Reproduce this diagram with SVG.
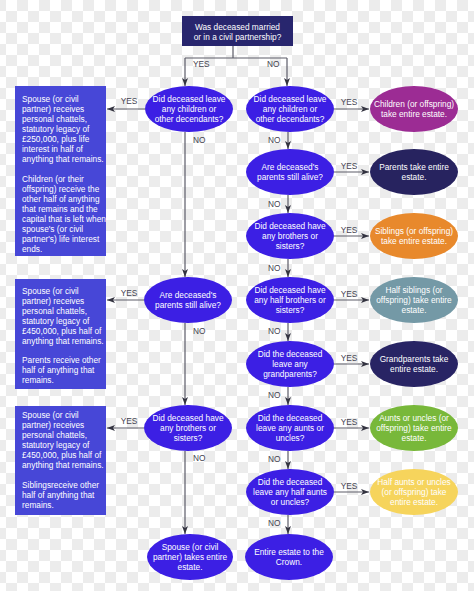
<svg xmlns="http://www.w3.org/2000/svg" width="474" height="591" viewBox="0 0 474 591">
<defs>
<pattern id="chk" x="17" y="0" width="22" height="22" patternUnits="userSpaceOnUse">
<rect width="22" height="22" fill="#ffffff"/>
<rect width="11" height="11" fill="#ececec"/>
<rect x="11" y="11" width="11" height="11" fill="#ececec"/>
</pattern>
<marker id="ah" markerUnits="userSpaceOnUse" markerWidth="8" markerHeight="6" refX="8" refY="3" orient="auto">
<path d="M0,0 L8,3 L0,6 L2,3 z" fill="#333340"/>
</marker>
<style>
.q{fill:#3c1fe4}
.box{fill:#4747d7}
.t{font-family:"Liberation Sans",Arial,sans-serif;font-size:8.3px;fill:#ffffff}
.m{text-anchor:middle}
.lbl{font-family:"Liberation Sans",Arial,sans-serif;font-size:8.3px;fill:#444450}
.c{stroke:#5c5c68;stroke-width:1.2;fill:none}
.a{marker-end:url(#ah)}
</style>
</defs>
<rect width="474" height="591" fill="url(#chk)"/>

<g id="connectors">
<path class="c" d="M233,46 V58 M185,58 H287"/>
<path class="c a" d="M185,58 V86"/>
<path class="c a" d="M287,58 V86"/>
<path class="c a" d="M145,109 H107"/>
<path class="c a" d="M185,132 V277"/>
<path class="c a" d="M144,300 H107"/>
<path class="c a" d="M185,323 V405"/>
<path class="c a" d="M144,428 H107"/>
<path class="c a" d="M185,451 V534"/>
<path class="c a" d="M334,109 H369"/>
<path class="c a" d="M334,172 H369"/>
<path class="c a" d="M334,236 H369"/>
<path class="c a" d="M334,300 H369"/>
<path class="c a" d="M334,364 H369"/>
<path class="c a" d="M334,428 H369"/>
<path class="c a" d="M334,492 H369"/>
<path class="c a" d="M288,132 V149"/>
<path class="c a" d="M288,195 V213"/>
<path class="c a" d="M288,259 V277"/>
<path class="c a" d="M288,323 V341"/>
<path class="c a" d="M288,387 V405"/>
<path class="c a" d="M288,451 V469"/>
<path class="c a" d="M288,515 V534"/>
<text class="lbl" x="193" y="67">YES</text>
<text class="lbl" x="267" y="67">NO</text>
<text class="lbl m" x="129" y="104">YES</text>
<text class="lbl m" x="129" y="296">YES</text>
<text class="lbl m" x="129" y="424">YES</text>
<text class="lbl" x="193" y="143">NO</text>
<text class="lbl" x="193" y="334">NO</text>
<text class="lbl" x="193" y="461">NO</text>
<text class="lbl m" x="349" y="105">YES</text>
<text class="lbl m" x="349" y="169">YES</text>
<text class="lbl m" x="349" y="233">YES</text>
<text class="lbl m" x="349" y="297">YES</text>
<text class="lbl m" x="349" y="361">YES</text>
<text class="lbl m" x="349" y="425">YES</text>
<text class="lbl m" x="349" y="489">YES</text>
<text class="lbl" x="268" y="143">NO</text>
<text class="lbl" x="268" y="207">NO</text>
<text class="lbl" x="268" y="271">NO</text>
<text class="lbl" x="268" y="334">NO</text>
<text class="lbl" x="268" y="398">NO</text>
<text class="lbl" x="268" y="462">NO</text>
<text class="lbl" x="268" y="526">NO</text>
</g>

<g id="start">
<rect x="182" y="16" width="111" height="30" fill="#28266e"/>
<text class="t m" x="237.5" y="30">Was deceased married</text>
<text class="t m" x="237.5" y="40">or in a civil partnership?</text>
</g>

<g id="q-left-children">
<ellipse class="q" cx="189" cy="109" rx="44" ry="23"/>
<text class="t m" x="189" y="102">Did deceased leave</text>
<text class="t m" x="189" y="112">any children or</text>
<text class="t m" x="189" y="122">other decendants?</text>
</g>
<g id="q-left-parents">
<ellipse class="q" cx="188" cy="300" rx="44" ry="23"/>
<text class="t m" x="188" y="298">Are deceased's</text>
<text class="t m" x="188" y="308">parents still alive?</text>
</g>
<g id="q-left-siblings">
<ellipse class="q" cx="188" cy="428" rx="44" ry="23"/>
<text class="t m" x="188" y="421">Did deceased have</text>
<text class="t m" x="188" y="431">any brothers or</text>
<text class="t m" x="188" y="441">sisters?</text>
</g>
<g id="r-spouse">
<ellipse class="q" cx="190" cy="557" rx="43" ry="23"/>
<text class="t m" x="190" y="550">Spouse (or civil</text>
<text class="t m" x="190" y="560">partner) takes entire</text>
<text class="t m" x="190" y="570">estate.</text>
</g>

<g id="box-children">
<rect class="box" x="15" y="86" width="91" height="170"/>
<text class="t" x="22" y="102">Spouse (or civil</text>
<text class="t" x="22" y="112">partner) receives</text>
<text class="t" x="22" y="122">personal chattels,</text>
<text class="t" x="22" y="132">statutory legacy of</text>
<text class="t" x="22" y="142">£250,000, plus life</text>
<text class="t" x="22" y="152">interest in half of</text>
<text class="t" x="22" y="162">anything that remains.</text>
<text class="t" x="22" y="182">Children (or their</text>
<text class="t" x="22" y="192">offspring) receive the</text>
<text class="t" x="22" y="202">other half of anything</text>
<text class="t" x="22" y="212">that remains and the</text>
<text class="t" x="22" y="222">capital that is left when</text>
<text class="t" x="22" y="232">spouse's (or civil</text>
<text class="t" x="22" y="242">partner's) life interest</text>
<text class="t" x="22" y="252">ends.</text>
</g>
<g id="box-parents">
<rect class="box" x="15" y="279" width="91" height="110"/>
<text class="t" x="22" y="294">Spouse (or civil</text>
<text class="t" x="22" y="304">partner) receives</text>
<text class="t" x="22" y="314">personal chattels,</text>
<text class="t" x="22" y="324">statutory legacy of</text>
<text class="t" x="22" y="334">£450,000, plus half of</text>
<text class="t" x="22" y="344">anything that remains.</text>
<text class="t" x="22" y="363">Parents receive other</text>
<text class="t" x="22" y="373">half of anything that</text>
<text class="t" x="22" y="383">remains.</text>
</g>
<g id="box-siblings">
<rect class="box" x="15" y="406" width="91" height="109"/>
<text class="t" x="22" y="418">Spouse (or civil</text>
<text class="t" x="22" y="428">partner) receives</text>
<text class="t" x="22" y="438">personal chattels,</text>
<text class="t" x="22" y="448">statutory legacy of</text>
<text class="t" x="22" y="458">£450,000, plus half of</text>
<text class="t" x="22" y="468">anything that remains.</text>
<text class="t" x="22" y="488">Siblingsreceive other</text>
<text class="t" x="22" y="498">half of anything that</text>
<text class="t" x="22" y="508">remains.</text>
</g>

<g id="q-right-children">
<ellipse class="q" cx="290" cy="109" rx="44" ry="23"/>
<text class="t m" x="290" y="102">Did deceased leave</text>
<text class="t m" x="290" y="112">any children or</text>
<text class="t m" x="290" y="122">other decendants?</text>
</g>
<g id="q-right-parents">
<ellipse class="q" cx="290" cy="172" rx="44" ry="23"/>
<text class="t m" x="290" y="170">Are deceased's</text>
<text class="t m" x="290" y="180">parents still alive?</text>
</g>
<g id="q-right-siblings">
<ellipse class="q" cx="290" cy="236" rx="44" ry="23"/>
<text class="t m" x="290" y="229">Did deceased have</text>
<text class="t m" x="290" y="239">any brothers or</text>
<text class="t m" x="290" y="249">sisters?</text>
</g>
<g id="q-right-half-siblings">
<ellipse class="q" cx="290" cy="300" rx="44" ry="23"/>
<text class="t m" x="290" y="293">Did deceased have</text>
<text class="t m" x="290" y="303">any half brothers or</text>
<text class="t m" x="290" y="313">sisters?</text>
</g>
<g id="q-right-grandparents">
<ellipse class="q" cx="290" cy="364" rx="44" ry="23"/>
<text class="t m" x="290" y="357">Did the deceased</text>
<text class="t m" x="290" y="367">leave any</text>
<text class="t m" x="290" y="377">grandparents?</text>
</g>
<g id="q-right-aunts">
<ellipse class="q" cx="290" cy="428" rx="44" ry="23"/>
<text class="t m" x="290" y="421">Did the deceased</text>
<text class="t m" x="290" y="431">leave any aunts or</text>
<text class="t m" x="290" y="441">uncles?</text>
</g>
<g id="q-right-half-aunts">
<ellipse class="q" cx="290" cy="492" rx="44" ry="23"/>
<text class="t m" x="290" y="485">Did the deceased</text>
<text class="t m" x="290" y="495">leave any half aunts</text>
<text class="t m" x="290" y="505">or uncles?</text>
</g>
<g id="r-crown">
<ellipse class="q" cx="289" cy="557" rx="44" ry="23"/>
<text class="t m" x="289" y="555">Entire estate to the</text>
<text class="t m" x="289" y="565">Crown.</text>
</g>

<g id="r-children">
<ellipse cx="414" cy="109" rx="44" ry="23" fill="#9c2c94"/>
<text class="t m" x="414" y="107">Children (or offspring)</text>
<text class="t m" x="414" y="117">take entire estate.</text>
</g>
<g id="r-parents">
<ellipse cx="414" cy="172" rx="44" ry="23" fill="#27235f"/>
<text class="t m" x="414" y="170">Parents take entire</text>
<text class="t m" x="414" y="180">estate.</text>
</g>
<g id="r-siblings">
<ellipse cx="414" cy="236" rx="44" ry="23" fill="#e8892c"/>
<text class="t m" x="414" y="234">Siblings (or offspring)</text>
<text class="t m" x="414" y="244">take entire estate.</text>
</g>
<g id="r-half-siblings">
<ellipse cx="414" cy="300" rx="44" ry="23" fill="#7499a6"/>
<text class="t m" x="414" y="293">Half siblings (or</text>
<text class="t m" x="414" y="303">offspring) take entire</text>
<text class="t m" x="414" y="313">estate.</text>
</g>
<g id="r-grandparents">
<ellipse cx="414" cy="364" rx="44" ry="23" fill="#282464"/>
<text class="t m" x="414" y="362">Grandparents take</text>
<text class="t m" x="414" y="372">entire estate.</text>
</g>
<g id="r-aunts">
<ellipse cx="414" cy="428" rx="44" ry="23" fill="#78b83a"/>
<text class="t m" x="414" y="421">Aunts or uncles (or</text>
<text class="t m" x="414" y="431">offspring) take entire</text>
<text class="t m" x="414" y="441">estate.</text>
</g>
<g id="r-half-aunts">
<ellipse cx="414" cy="492" rx="44" ry="23" fill="#f6d45c"/>
<text class="t m" x="414" y="485">Half aunts or uncles</text>
<text class="t m" x="414" y="495">(or offspring) take</text>
<text class="t m" x="414" y="505">entire estate.</text>
</g>
</svg>
